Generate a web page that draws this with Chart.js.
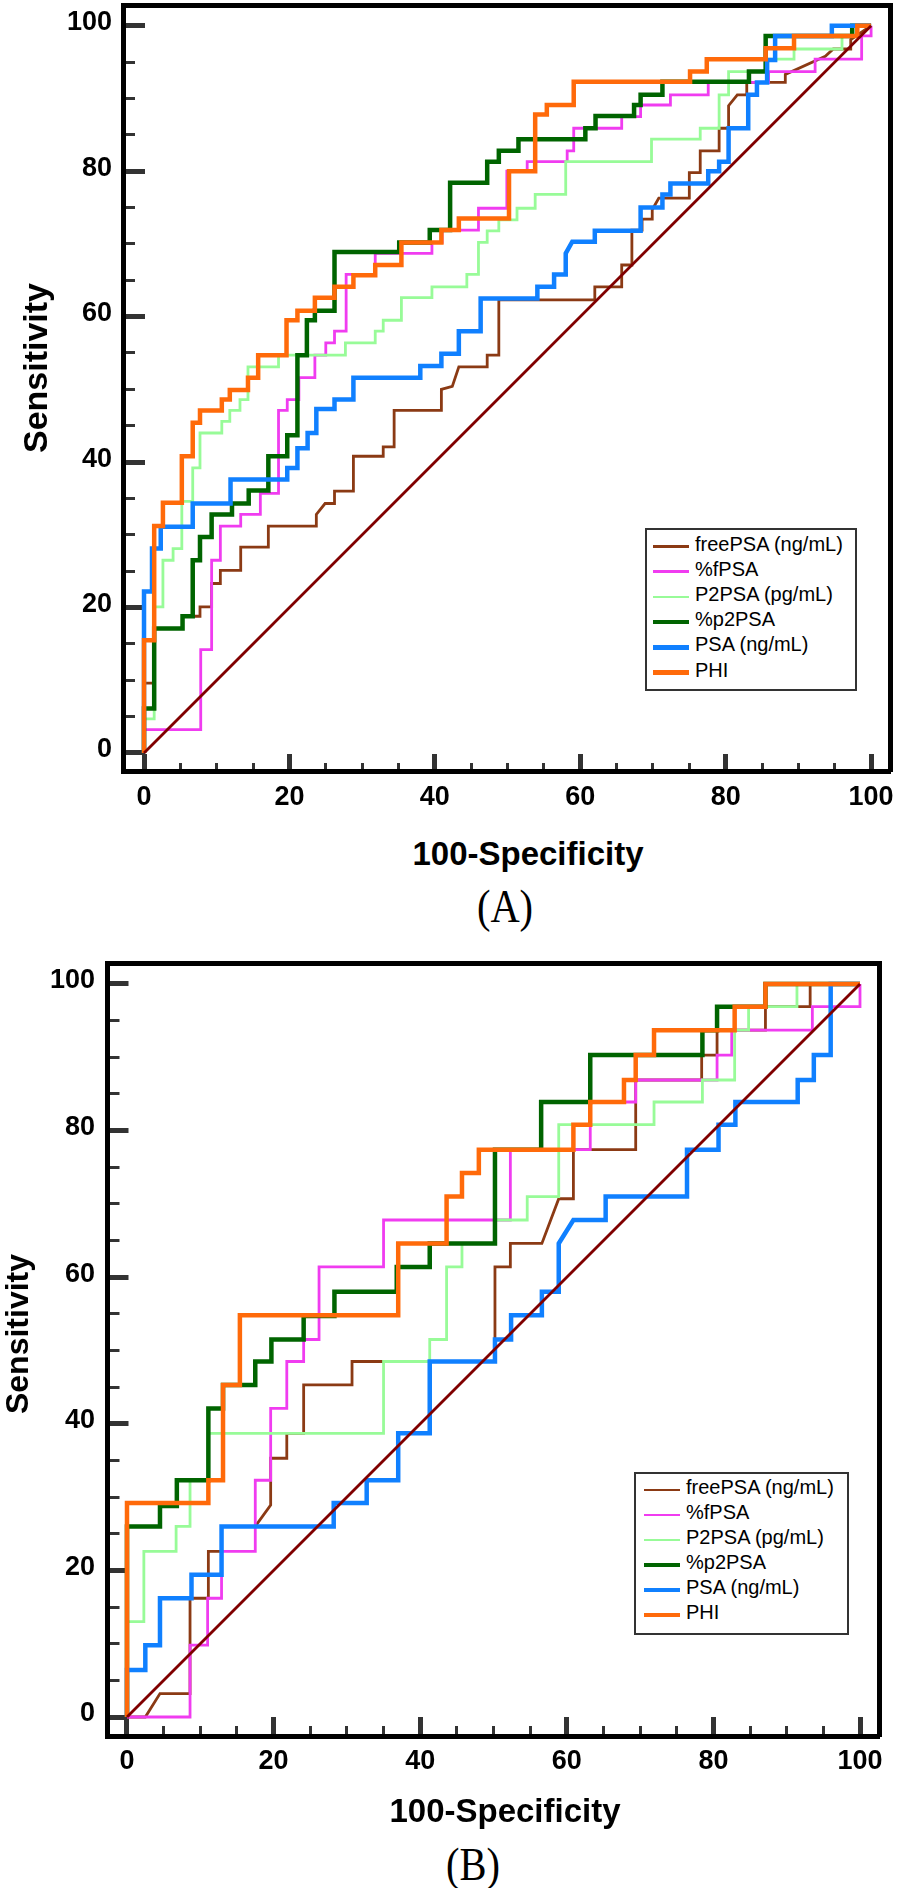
<!DOCTYPE html>
<html>
<head>
<meta charset="utf-8">
<script src="https://cdn.jsdelivr.net/npm/chart.js@4.4.1/dist/chart.umd.min.js"></script>
<style>
    html, body { margin: 0; padding: 0; background: #fff; }
    body { position: relative; width: 904px; height: 1888px; overflow: hidden; font-family: Arial, "Liberation Sans", sans-serif; }
    canvas { position: absolute; left: 0; }
    .axis-title { position: absolute; font-weight: bold; line-height: 1; text-align: center; white-space: nowrap; color: #000; }
    .panel-label { position: absolute; width: 200px; font-family: "Times New Roman", "Liberation Serif", serif; font-size: 46px; line-height: 1; text-align: center; transform: scaleX(0.88); color: #000; }
    .legend { position: absolute; box-sizing: border-box; border: 2px solid #333; background: #fff; }
    .legend .sample { position: absolute; width: 36px; }
    .legend .text { position: absolute; font-size: 20px; line-height: 25px; white-space: nowrap; color: #000; }
</style>
</head>
<body>
<canvas id="chartA" width="904" height="830" style="top:0"></canvas>
<canvas id="chartB" width="904" height="860" style="top:940px"></canvas>

<div class="axis-title" style="left:-115px; top:351px; width:300px; font-size:34px; line-height:34px; transform:rotate(-90deg)">Sensitivity</div>
<div class="axis-title" style="left:328px; top:837px; width:400px; font-size:33px">100-Specificity</div>
<div class="panel-label" style="left:405px; top:884px">(A)</div>

<div class="axis-title" style="left:-133px; top:1318px; width:300px; font-size:32px; line-height:32px; transform:rotate(-90deg)">Sensitivity</div>
<div class="axis-title" style="left:305px; top:1794px; width:400px; font-size:33px">100-Specificity</div>
<div class="panel-label" style="left:373px; top:1842px">(B)</div>

<script>
const names = ['freePSA (ng/mL)', '%fPSA', 'P2PSA (pg/mL)', '%p2PSA', 'PSA (ng/mL)', 'PHI'];
const majorTicks = [0, 20, 40, 60, 80, 100];
const minorTicks = [0, 5, 10, 15, 20, 25, 30, 35, 40, 45, 50, 55, 60, 65, 70, 75, 80, 85, 90, 95, 100];
const reference = [[0, 0], [100, 100]];

// (A) ROC points [100-specificity, sensitivity]
const aFreePSA = [[0,0],[0,9.6],[1.4,9.6],[1.4,17.1],[5.3,17.1],[5.3,18.8],[7.7,18.8],[7.7,20.1],[9.3,20.1],[9.3,23.3],[10.5,23.3],[10.5,25.1],[13.3,25.1],[13.3,28.3],[17.1,28.3],[17.1,31.2],[23.7,31.2],[23.7,32.8],[24.9,34.3],[26.2,34.3],[26.2,36.0],[28.8,36.0],[28.8,40.8],[32.9,40.8],[32.9,42.1],[34.4,42.1],[34.4,47.1],[40.9,47.1],[40.9,50.0],[42.4,50.4],[43.3,53.1],[47.2,53.1],[47.2,54.7],[48.8,54.7],[48.8,62.3],[62.0,62.3],[62.0,64.1],[65.7,64.1],[65.7,67.1],[67.1,67.1],[67.1,71.9],[68.5,71.9],[68.5,73.4],[69.9,73.4],[69.9,74.7],[70.8,76.3],[75.0,76.3],[75.0,79.8],[76.5,79.8],[76.5,82.8],[79.1,82.8],[79.1,85.9],[80.4,85.9],[80.4,89.0],[81.6,90.5],[82.9,90.5],[82.9,92.2],[88.2,92.2],[88.2,93.3],[93.7,95.8],[94.8,96.8],[97.2,96.8],[97.2,98.1],[100,100]];
const aPctFPSA = [[0,0],[0,3.2],[7.8,3.2],[7.8,14.2],[9.3,14.2],[9.3,26.5],[10.5,26.5],[10.5,31.2],[13.3,31.2],[13.3,32.8],[16.0,32.8],[16.0,35.7],[18.5,35.7],[18.5,47.1],[19.7,47.1],[19.7,48.6],[21.3,48.6],[21.3,51.6],[23.5,51.6],[23.5,54.7],[25.0,54.7],[25.0,56.4],[26.2,56.4],[26.2,58.0],[27.8,58.0],[27.8,65.8],[31.8,65.8],[31.8,68.7],[39.6,68.7],[39.6,70.2],[41.0,70.2],[41.0,71.9],[46.0,71.9],[46.0,74.9],[49.9,74.9],[49.9,80.0],[52.7,80.0],[52.7,81.3],[58.2,81.3],[58.2,82.8],[59.1,82.8],[59.1,85.9],[65.7,85.9],[65.7,87.5],[68.3,87.5],[68.3,89.1],[72.4,89.1],[72.4,90.5],[77.6,90.5],[77.6,92.2],[85.9,92.2],[85.9,93.7],[92.3,93.7],[92.3,95.4],[98.7,95.4],[98.7,98.6],[100,98.6],[100,100]];
const aP2PSA = [[0,0],[0,4.7],[1.4,4.7],[1.4,20.1],[2.6,20.1],[2.6,26.5],[4.0,26.5],[4.0,28.1],[5.2,28.1],[5.2,34.6],[6.7,34.6],[6.7,39.2],[7.7,39.2],[7.7,44.0],[10.7,44.0],[10.7,45.6],[11.8,45.6],[11.8,47.1],[13.2,47.1],[13.2,48.6],[14.3,48.6],[14.3,53.1],[18.5,53.1],[18.5,54.7],[27.7,54.7],[27.7,56.4],[31.8,56.4],[31.8,58.0],[32.9,58.0],[32.9,59.5],[35.4,59.5],[35.4,62.6],[39.6,62.6],[39.6,64.1],[44.4,64.1],[44.4,65.8],[46.0,65.8],[46.0,70.2],[47.2,70.2],[47.2,71.8],[48.8,71.8],[48.8,73.3],[51.3,73.3],[51.3,74.9],[53.8,74.9],[53.8,76.8],[58.0,76.8],[58.0,81.3],[69.8,81.3],[69.8,84.4],[76.5,84.4],[76.5,85.9],[79.1,85.9],[79.1,90.5],[80.4,90.5],[80.4,93.7],[85.5,93.7],[85.5,95.4],[89.4,95.4],[89.4,96.8],[96.0,96.8],[96.0,98.6],[98.1,98.6],[98.1,100],[100,100]];
const aPctP2PSA = [[0,0],[0,6.1],[1.4,6.1],[1.4,17.1],[5.3,17.1],[5.3,18.8],[6.7,18.8],[6.7,26.5],[7.7,26.5],[7.7,29.7],[9.3,29.7],[9.3,32.8],[12.1,32.8],[12.1,34.3],[14.4,34.3],[14.4,36.1],[17.1,36.1],[17.1,40.8],[19.7,40.8],[19.7,43.7],[21.1,43.7],[21.1,54.7],[22.4,54.7],[22.4,59.5],[23.5,59.5],[23.5,60.8],[26.2,60.8],[26.2,68.9],[35.1,68.9],[35.1,70.2],[39.3,70.2],[39.3,71.9],[42.1,71.9],[42.1,78.4],[47.2,78.4],[47.2,81.3],[48.8,81.3],[48.8,82.8],[51.5,82.8],[51.5,84.4],[60.7,84.4],[60.7,85.9],[62.1,85.9],[62.1,87.6],[67.4,87.6],[67.4,89.1],[68.3,89.1],[68.3,90.5],[71.3,90.5],[71.3,92.3],[83.2,92.3],[83.2,93.7],[85.5,93.7],[85.5,98.6],[97.4,98.6],[97.4,100],[100,100]];
const aPSA = [[0,0],[0,22.2],[1.1,22.2],[1.1,28.1],[2.3,28.1],[2.3,31.1],[6.7,31.1],[6.7,34.3],[11.9,34.3],[11.9,37.6],[19.7,37.6],[19.7,39.2],[21.1,39.2],[21.1,41.9],[22.5,41.9],[22.5,44.0],[23.7,44.0],[23.7,47.3],[26.2,47.3],[26.2,48.6],[28.8,48.6],[28.8,51.6],[38.0,51.6],[38.0,53.2],[40.9,53.2],[40.9,54.9],[43.3,54.9],[43.3,58.0],[46.3,58.0],[46.3,62.5],[54.1,62.5],[54.1,64.1],[56.4,64.1],[56.4,65.8],[58.0,65.8],[58.0,68.7],[58.9,70.3],[62.0,70.3],[62.0,71.8],[68.3,71.8],[68.3,75.0],[71.3,75.0],[71.3,76.8],[72.4,76.8],[72.4,78.3],[77.6,78.3],[77.6,80.0],[79.1,80.0],[79.1,81.3],[80.4,81.3],[80.4,85.9],[83.1,85.9],[83.1,90.5],[84.3,90.5],[84.3,92.2],[85.7,92.2],[85.7,95.3],[86.8,95.3],[86.8,98.6],[94.6,98.6],[94.6,100],[100,100]];
const aPHI = [[0,0],[0,15.5],[1.4,15.5],[1.4,31.2],[2.6,31.2],[2.6,34.4],[5.2,34.4],[5.2,40.8],[6.7,40.8],[6.7,45.4],[7.7,45.4],[7.7,47.1],[10.7,47.1],[10.7,48.6],[11.8,48.6],[11.8,49.9],[14.3,49.9],[14.3,51.6],[15.7,51.6],[15.7,54.7],[19.6,54.7],[19.6,59.5],[21.1,59.5],[21.1,60.8],[23.5,60.8],[23.5,62.6],[26.2,62.6],[26.2,64.1],[28.8,64.1],[28.8,65.7],[31.8,65.7],[31.8,67.1],[35.4,67.1],[35.4,70.2],[40.9,70.2],[40.9,71.9],[43.3,71.9],[43.3,73.5],[50.2,73.5],[50.2,80.0],[53.8,80.0],[53.8,87.8],[55.4,87.8],[55.4,89.1],[59.1,89.1],[59.1,92.3],[75.1,92.3],[75.1,93.7],[77.4,93.7],[77.4,95.4],[85.5,95.4],[85.5,96.9],[89.4,96.9],[89.4,98.6],[98.1,98.6],[98.1,100],[100,100]];

// (B)
const bFreePSA = [[0,0],[2.5,0],[4.5,3.2],[8.6,3.2],[8.6,16.2],[11.1,16.2],[11.1,22.6],[12.9,22.6],[12.9,26.0],[17.5,26.0],[19.6,28.9],[19.6,35.3],[21.8,35.3],[21.8,38.7],[24.1,38.7],[24.1,45.3],[30.7,45.3],[30.7,48.5],[50.2,48.5],[50.2,61.4],[52.3,61.4],[52.3,64.6],[56.6,64.6],[58.9,70.7],[60.9,70.7],[60.9,77.4],[69.4,77.4],[69.4,86.9],[78.4,86.9],[78.4,90.3],[80.5,90.3],[80.5,93.7],[87.1,93.7],[87.1,96.9],[93.2,96.9],[93.2,100],[100,100]];
const bPctFPSA = [[0,0],[8.6,0],[8.6,9.8],[11.0,9.8],[11.0,16.2],[12.9,16.2],[12.9,22.6],[17.5,22.6],[17.5,32.3],[19.6,32.3],[19.6,42.1],[21.8,42.1],[21.8,48.5],[24.1,48.5],[24.1,51.5],[26.2,51.5],[26.2,61.4],[35.0,61.4],[35.0,67.8],[52.3,67.8],[52.3,77.4],[63.2,77.4],[63.2,83.9],[69.4,83.9],[69.4,86.9],[80.5,86.9],[80.5,90.3],[82.5,90.3],[82.5,93.7],[93.5,93.7],[93.5,96.9],[100,96.9],[100,100]];
const bP2PSA = [[0,0],[0,13.0],[2.3,13.0],[2.3,22.6],[6.7,22.6],[6.7,26.0],[8.6,26.0],[8.6,32.3],[11.1,32.3],[11.1,38.7],[35.0,38.7],[35.0,48.5],[41.3,48.5],[41.3,51.5],[43.6,51.5],[43.6,61.4],[45.7,61.4],[45.7,64.6],[50.2,64.6],[50.2,67.8],[54.6,67.8],[54.6,71.0],[58.9,71.0],[58.9,80.8],[71.9,80.8],[71.9,83.9],[78.5,83.9],[78.5,86.9],[82.9,86.9],[82.9,93.7],[84.8,93.7],[84.8,96.9],[91.4,96.9],[91.4,100],[100,100]];
const bPctP2PSA = [[0,0],[0,26.0],[4.5,26.0],[4.5,28.8],[6.8,28.8],[6.8,32.3],[11.1,32.3],[11.1,42.1],[13.1,42.1],[13.1,45.3],[17.5,45.3],[17.5,48.5],[19.7,48.5],[19.7,51.5],[24.1,51.5],[24.1,54.7],[28.3,54.7],[28.3,58.0],[36.8,58.0],[36.8,61.4],[41.3,61.4],[41.3,64.6],[50.2,64.6],[50.2,77.4],[56.5,77.4],[56.5,83.9],[63.2,83.9],[63.2,90.3],[78.5,90.3],[78.5,93.7],[80.5,93.7],[80.5,96.9],[87.1,96.9],[87.1,100],[100,100]];
const bPSA = [[0,0],[0,6.4],[2.5,6.4],[2.5,9.8],[4.5,9.8],[4.5,16.2],[8.8,16.2],[8.8,19.4],[12.9,19.4],[12.9,26.0],[28.2,26.0],[28.2,29.2],[32.7,29.2],[32.7,32.3],[37.0,32.3],[37.0,38.7],[41.3,38.7],[41.3,48.5],[50.2,48.5],[50.2,51.5],[52.4,51.5],[52.4,54.8],[56.6,54.8],[56.6,58.0],[58.9,58.0],[58.9,64.6],[60.9,67.8],[65.3,67.8],[65.3,71.0],[76.4,71.0],[76.4,77.4],[80.7,77.4],[80.7,80.8],[83.0,80.8],[83.0,83.9],[91.5,83.9],[91.5,86.9],[93.7,86.9],[93.7,90.3],[96.0,90.3],[96.0,100],[100,100]];
const bPHI = [[0,0],[0,29.2],[11.1,29.2],[11.1,32.3],[13.1,32.3],[13.1,45.3],[15.4,45.3],[15.4,54.8],[37.0,54.8],[37.0,64.6],[43.6,64.6],[43.6,71.0],[45.7,71.0],[45.7,74.2],[48.0,74.2],[48.0,77.4],[60.9,77.4],[60.9,80.8],[63.2,80.8],[63.2,83.9],[67.8,83.9],[67.8,86.9],[69.4,86.9],[69.4,90.3],[71.9,90.3],[71.9,93.7],[82.9,93.7],[82.9,96.9],[87.1,96.9],[87.1,100],[100,100]];

const colors = ['#8B3A14', '#F03CF0', '#98FB98', '#006400', '#1080FF', '#FF6A0A'];
const widths = [2.8, 2.8, 2.8, 4.5, 4.5, 4.5];
const layers = [6, 5, 4, 3, 2, 1];   // lower = drawn on top

const tickFont = { family: 'Arial, "Liberation Sans", sans-serif', size: 27, weight: 'bold' };

const geomA = {
    x: { min: -2.89, max: 102.6 }, y: { min: -2.48, max: 102.85 },
    padding: { left: 0, right: 14, top: 5, bottom: 0 },
    yWidth: 123, xHeight: 59,
    yMajor: 22, yMinor: 12, xMajor: 17, xMinor: 8,
    yPad: 33, xPad: 27,
    legend: { left: 645, top: 528, width: 212, height: 163, first: 16, pitch: 25.2, sample: 8, text: 50 }
};
const geomB = {
    x: { min: -2.66, max: 102.66 }, y: { min: -2.59, max: 102.86 },
    padding: { left: 0, right: 24.5, top: 23, bottom: 0 },
    yWidth: 107.5, xHeight: 64,
    yMajor: 21, yMinor: 12, xMajor: 19, xMinor: 10,
    yPad: 33.5, xPad: 28,
    legend: { left: 634, top: 1472, width: 215, height: 163, first: 15.5, pitch: 25, sample: 10, text: 52 }
};

function setTicks(values) {
    return scale => { scale.ticks = values.map(v => ({ value: v })); };
}

// fix the axis box size and drop the label overhang padding so the plot area is exact
function fixSize(prop, size) {
    return scale => {
        scale[prop] = size;
        scale.paddingLeft = scale.paddingRight = scale.paddingTop = scale.paddingBottom = 0;
    };
}

function makeChart(id, curves, g) {
    const datasets = curves.map((pts, i) => ({
        label: names[i],
        data: pts,
        borderColor: colors[i],
        backgroundColor: colors[i],
        borderWidth: widths[i],
        order: layers[i]
    }));
    datasets.push({ label: '', data: reference, borderColor: '#800000', borderWidth: 2.8, order: 0 });

    const frame = { display: true, width: 5, color: '#000' };
    const hidden = { display: false };

    return new Chart(document.getElementById(id), {
        type: 'line',
        data: { datasets },
        options: {
            responsive: false,
            animation: false,
            devicePixelRatio: 1,
            events: [],
            layout: { padding: g.padding, autoPadding: false },
            elements: {
                point: { radius: 0 },
                line: { tension: 0, borderJoinStyle: 'miter', borderCapStyle: 'butt', fill: false }
            },
            plugins: { legend: { display: false }, tooltip: { enabled: false } },
            scales: {
                x: {
                    type: 'linear', position: 'bottom', weight: 1, min: g.x.min, max: g.x.max,
                    afterBuildTicks: setTicks(majorTicks),
                    afterFit: fixSize('height', g.xHeight),
                    grid: { drawOnChartArea: false, tickLength: -g.xMajor, tickWidth: 5, tickColor: '#333' },
                    border: frame,
                    ticks: { padding: g.xPad, font: tickFont, color: '#000', maxRotation: 0, autoSkip: false, callback: v => v }
                },
                xMinor: {
                    type: 'linear', position: 'bottom', weight: 0, min: g.x.min, max: g.x.max,
                    afterBuildTicks: setTicks(minorTicks),
                    afterFit: fixSize('height', 0),
                    grid: { drawOnChartArea: false, tickLength: -g.xMinor, tickWidth: 3, tickColor: '#333' },
                    border: hidden,
                    ticks: { display: false }
                },
                y: {
                    type: 'linear', position: 'left', weight: 1, min: g.y.min, max: g.y.max,
                    afterBuildTicks: setTicks(majorTicks),
                    afterFit: fixSize('width', g.yWidth),
                    grid: { drawOnChartArea: false, tickLength: -g.yMajor, tickWidth: 5, tickColor: '#333' },
                    border: frame,
                    ticks: { padding: g.yPad, labelOffset: -3, font: tickFont, color: '#000', autoSkip: false, callback: v => v }
                },
                yMinor: {
                    type: 'linear', position: 'left', weight: 0, min: g.y.min, max: g.y.max,
                    afterBuildTicks: setTicks(minorTicks),
                    afterFit: fixSize('width', 0),
                    grid: { drawOnChartArea: false, tickLength: -g.yMinor, tickWidth: 3, tickColor: '#333' },
                    border: hidden,
                    ticks: { display: false }
                },
                xTop: {
                    type: 'linear', position: 'top', min: g.x.min, max: g.x.max,
                    afterFit: fixSize('height', 0),
                    grid: { display: false }, border: frame, ticks: { display: false }
                },
                yRight: {
                    type: 'linear', position: 'right', min: g.y.min, max: g.y.max,
                    afterFit: fixSize('width', 0),
                    grid: { display: false }, border: frame, ticks: { display: false }
                }
            }
        }
    });
}

// HTML legend from the chart's own datasets
function buildLegend(chart, g) {
    const L = g.legend;
    const box = document.createElement('div');
    box.className = 'legend';
    box.style.left = L.left + 'px';
    box.style.top = L.top + 'px';
    box.style.width = L.width + 'px';
    box.style.height = L.height + 'px';
    chart.data.datasets.forEach((ds, i) => {
        if (!ds.label) return;
        const cy = L.first - 2 + i * L.pitch;
        const sample = document.createElement('div');
        sample.className = 'sample';
        sample.style.left = (L.sample - 2) + 'px';
        sample.style.top = (cy + 2.5 - ds.borderWidth / 2) + 'px';
        sample.style.height = ds.borderWidth + 'px';
        sample.style.background = ds.borderColor;
        const text = document.createElement('div');
        text.className = 'text';
        text.style.left = (L.text - 2) + 'px';
        text.style.top = (cy - 12.5) + 'px';
        text.textContent = ds.label;
        box.appendChild(sample);
        box.appendChild(text);
    });
    document.body.appendChild(box);
}

const chartA = makeChart('chartA', [aFreePSA, aPctFPSA, aP2PSA, aPctP2PSA, aPSA, aPHI], geomA);
const chartB = makeChart('chartB', [bFreePSA, bPctFPSA, bP2PSA, bPctP2PSA, bPSA, bPHI], geomB);
buildLegend(chartA, geomA);
buildLegend(chartB, geomB);
</script>
</body>
</html>
